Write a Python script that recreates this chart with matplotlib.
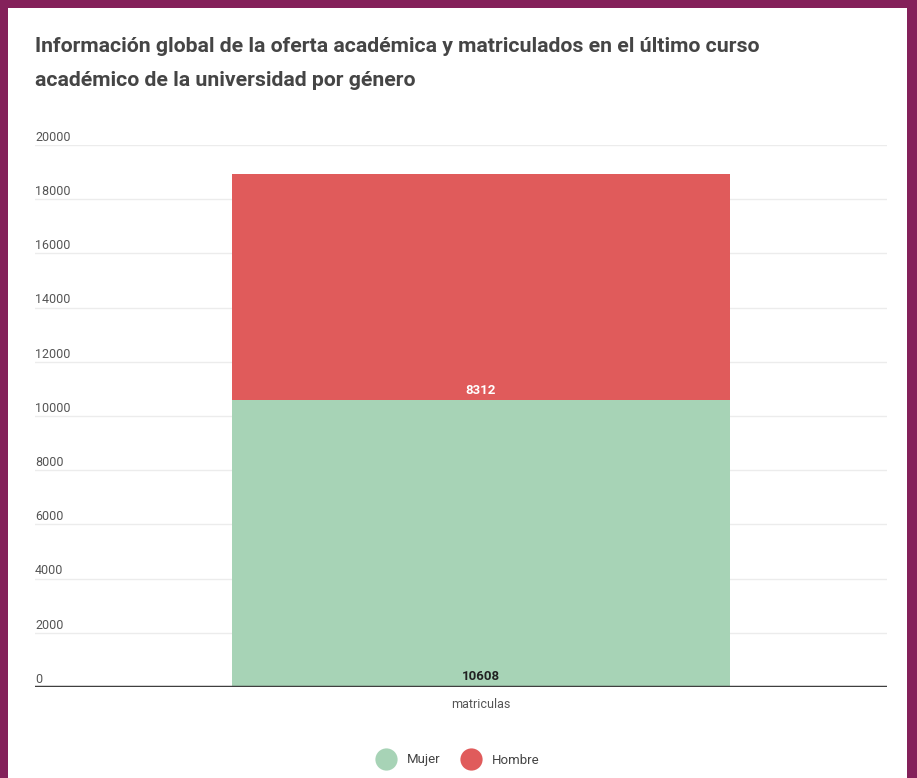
import matplotlib.pyplot as plt
from matplotlib.lines import Line2D
from matplotlib.patches import Rectangle

# enrolment by gender, single stacked bar
categories = ['matriculas']
mujer = [10608]
hombre = [8312]
yticks = list(range(0, 20001, 2000))

green = '#a7d3b6'
red = '#e05b5b'
purple = '#84215a'

plt.rcParams['font.family'] = ['Roboto', 'DejaVu Sans']

fig = plt.figure(figsize=(9.17, 7.78), dpi=100)
fig.patch.set_facecolor(purple)
W, H = 917, 778

# white card inside the purple frame
card = Rectangle((8 / W, 0), (907 - 8) / W, (778 - 8) / H,
                 transform=fig.transFigure, facecolor='white', edgecolor='none', zorder=-10)
fig.patches.append(card)

fig.text(35 / W, 1 - 47 / H, 'Información global de la oferta académica y matriculados en el último curso',
         fontsize=15.3, fontweight='bold', color='#454545', va='center', ha='left')
fig.text(35 / W, 1 - 80 / H, 'académico de la universidad por género',
         fontsize=15.3, fontweight='bold', color='#454545', va='center', ha='left')

# axes spans the gridline width; bar centred a bit right of middle
left, right = 35, 887
top, bottom = 145, 687
ax = fig.add_axes([left / W, 1 - bottom / H, (right - left) / W, (bottom - top) / H])
ax.set_facecolor('none')
bar_w = 1.0
bar_px = 498
ax.set_xlim(-(481 - left) / bar_px, (right - 481) / bar_px)
ax.set_ylim(0, 20000)

x = list(range(len(categories)))
ax.bar(x, mujer, width=bar_w, color=green, zorder=2)
ax.bar(x, hombre, width=bar_w, bottom=mujer, color=red, zorder=2)

for i in x:
    ax.text(i, 150, str(mujer[i]), ha='center', va='bottom', fontsize=9.5,
            fontweight='bold', color='#222222', zorder=3)
    ax.text(i, mujer[i] + 100, str(hombre[i]), ha='center', va='bottom', fontsize=9.5,
            fontweight='bold', color='white', zorder=3)

# gridlines with labels sitting just above them
for v in yticks[1:]:
    ax.axhline(v, color='#ececec', lw=1, zorder=1)
for v in yticks:
    ax.annotate(str(v), xy=(0, v), xycoords=('axes fraction', 'data'),
                xytext=(0, 5.5), textcoords='offset points',
                ha='left', va='center', fontsize=9, color='#555555')
ax.axhline(0, color='#3f3f3f', lw=2.5, zorder=4)

for s in ax.spines.values():
    s.set_visible(False)
ax.set_yticks([])
ax.set_xticks(x)
ax.set_xticklabels(categories, fontsize=9, color='#555555')
ax.tick_params(axis='x', length=0, pad=8)

handles = [Line2D([], [], marker='o', ls='none', markersize=16, markerfacecolor=green, markeredgecolor='none'),
           Line2D([], [], marker='o', ls='none', markersize=16, markerfacecolor=red, markeredgecolor='none')]
fig.legend(handles, ['Mujer', 'Hombre'], loc='center', bbox_to_anchor=(456 / W, 1 - 760 / H),
           ncol=2, frameon=False, fontsize=9.5, handletextpad=0.6, columnspacing=1.3,
           labelcolor='#444444')

fig.savefig('out.png', dpi=100, facecolor=fig.get_facecolor())
